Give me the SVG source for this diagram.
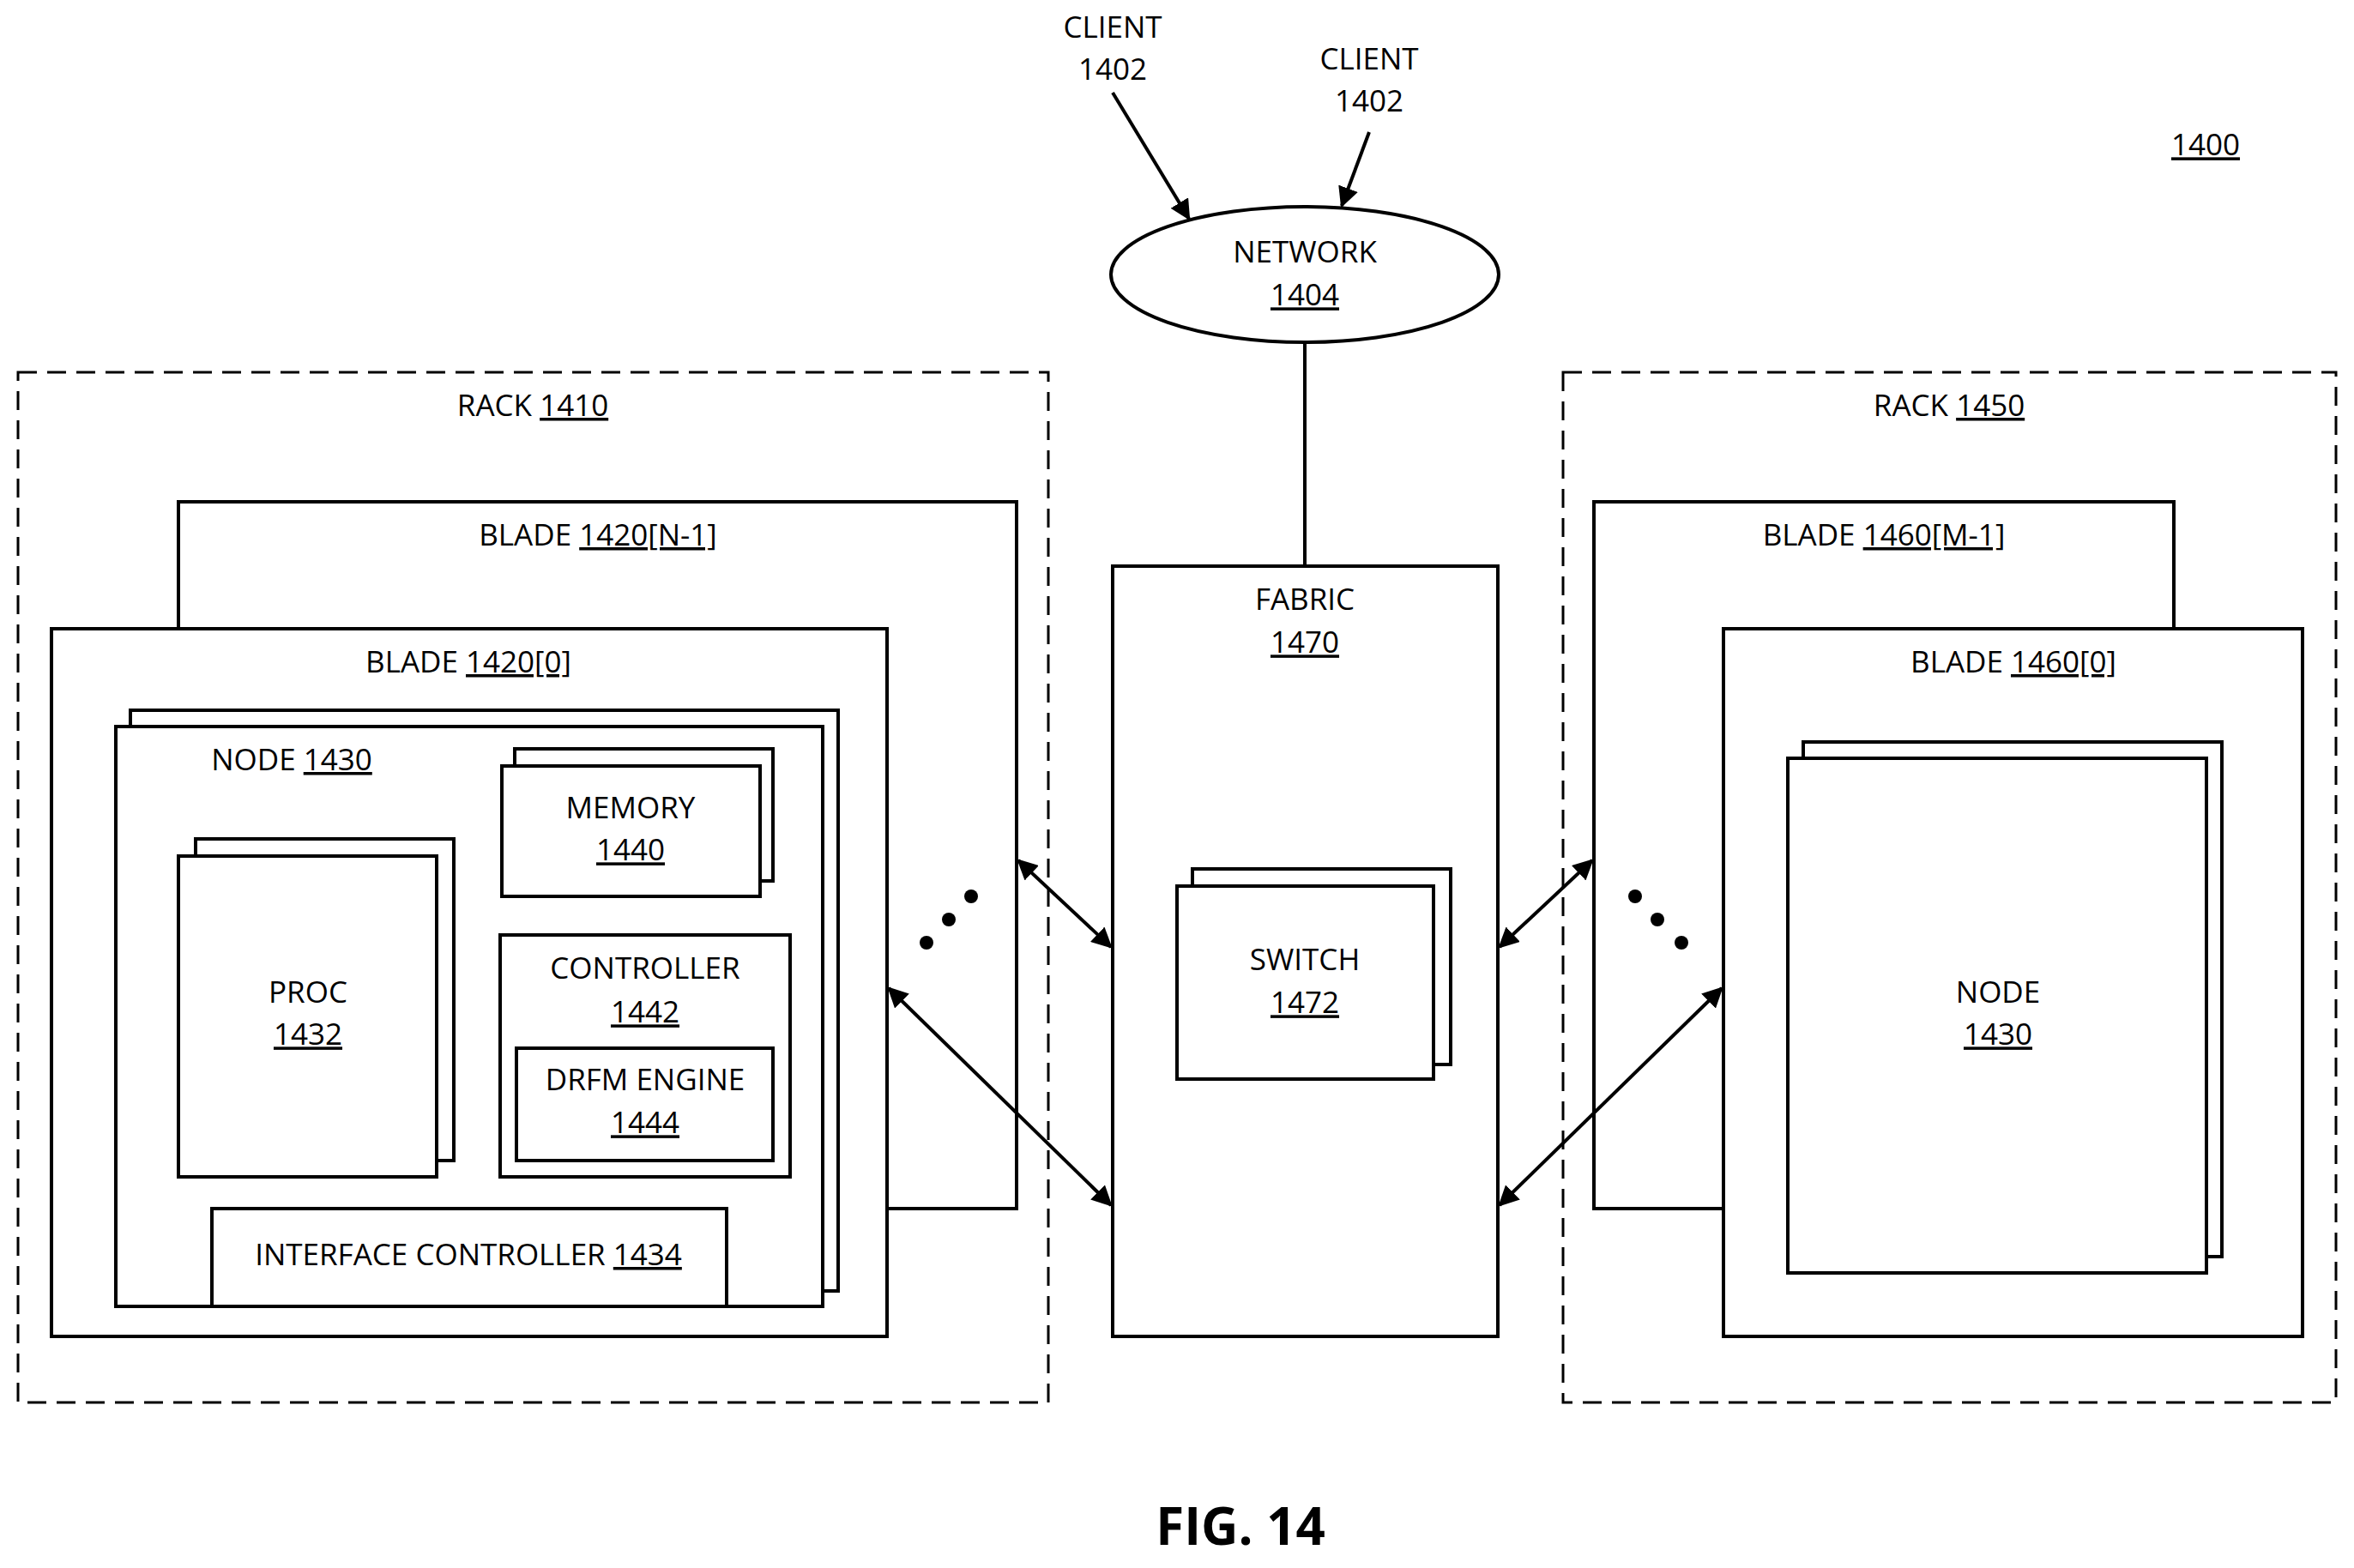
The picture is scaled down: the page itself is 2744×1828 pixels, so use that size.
<svg xmlns="http://www.w3.org/2000/svg" width="2744" height="1828" viewBox="0 0 2744 1828">
<style>
text{font-family:"Open Sans","Liberation Sans",sans-serif;font-size:35px;fill:#000;text-anchor:middle;dominant-baseline:middle}
.u{text-decoration:underline}
.b{fill:#fff;stroke:#000;stroke-width:4}
.d{fill:none;stroke:#000;stroke-width:3;stroke-dasharray:22 12}
.c{stroke:#000;stroke-width:4;fill:none}
</style>
<defs><marker id="a" viewBox="0 0 10 10" refX="9" refY="5" markerWidth="6" markerHeight="6" orient="auto-start-reverse" markerUnits="strokeWidth"><path d="M0,0L10,5L0,10z"/></marker></defs>
<rect width="2744" height="1828" fill="#fff"/>
<g id="client1"><text x="1297" y="35">CLIENT</text><text x="1297" y="84">1402</text></g>
<g id="client2"><text x="1596" y="72">CLIENT</text><text x="1596" y="121">1402</text></g>
<text x="2571" y="172" class="u">1400</text>
<g id="rack1410"><rect class="d" x="21" y="434" width="1201" height="1201"/><text x="621" y="476">RACK <tspan class="u">1410</tspan></text></g>
<g id="rack1450"><rect class="d" x="1822" y="434" width="901" height="1201"/><text x="2272" y="476">RACK <tspan class="u">1450</tspan></text></g>
<g id="blade1420n"><rect class="b" x="208" y="585" width="977" height="824"/><text x="697" y="627">BLADE <tspan class="u">1420[N-1]</tspan></text></g>
<g id="blade1420_0"><rect class="b" x="60" y="733" width="974" height="825"/><text x="546" y="775">BLADE <tspan class="u">1420[0]</tspan></text></g>
<g id="node1430"><rect class="b" x="152" y="828" width="825" height="677"/><rect class="b" x="135" y="847" width="824" height="676"/><text x="340" y="889">NODE <tspan class="u">1430</tspan></text></g>
<g id="memory"><rect class="b" x="600" y="873" width="301" height="154"/><rect class="b" x="585" y="893" width="301" height="152"/><text x="735" y="945">MEMORY</text><text x="735" y="994" class="u">1440</text></g>
<g id="proc"><rect class="b" x="228" y="978" width="301" height="375"/><rect class="b" x="208" y="998" width="301" height="374"/><text x="359" y="1160">PROC</text><text x="359" y="1209" class="u">1432</text></g>
<g id="controller"><rect class="b" x="583" y="1090" width="338" height="282"/><text x="752" y="1132">CONTROLLER</text><text x="752" y="1183" class="u">1442</text></g>
<g id="drfm"><rect class="b" x="602" y="1222" width="299" height="131"/><text x="752" y="1262">DRFM ENGINE</text><text x="752" y="1312" class="u">1444</text></g>
<g id="ifc"><rect class="b" x="247" y="1409" width="600" height="114"/><text x="546" y="1466">INTERFACE CONTROLLER <tspan class="u">1434</tspan></text></g>
<g id="blade1460m"><rect class="b" x="1858" y="585" width="676" height="824"/><text x="2196" y="627">BLADE <tspan class="u">1460[M-1]</tspan></text></g>
<g id="blade1460_0"><rect class="b" x="2009" y="733" width="675" height="825"/><text x="2347" y="775">BLADE <tspan class="u">1460[0]</tspan></text></g>
<g id="node1430r"><rect class="b" x="2102" y="865" width="488" height="600"/><rect class="b" x="2084" y="884" width="488" height="600"/><text x="2329" y="1160">NODE</text><text x="2329" y="1209" class="u">1430</text></g>
<g id="fabric"><rect class="b" x="1297" y="660" width="449" height="898"/><text x="1521" y="702">FABRIC</text><text x="1521" y="752" class="u">1470</text></g>
<g id="switch"><rect class="b" x="1390" y="1013" width="301" height="228"/><rect class="b" x="1372" y="1033" width="299" height="225"/><text x="1521" y="1122">SWITCH</text><text x="1521" y="1172" class="u">1472</text></g>
<g id="network"><ellipse class="b" cx="1521" cy="320" rx="226" ry="79"/><text x="1521" y="297">NETWORK</text><text x="1521" y="347" class="u">1404</text></g>
<g id="dots"><circle cx="1080" cy="1099" r="8"/><circle cx="1106" cy="1072" r="8"/><circle cx="1132" cy="1045" r="8"/><circle cx="1906" cy="1045" r="8"/><circle cx="1932" cy="1072" r="8"/><circle cx="1960" cy="1099" r="8"/></g>
<g id="connectors">
<line class="c" x1="1297" y1="108" x2="1386" y2="255" marker-end="url(#a)"/>
<line class="c" x1="1596" y1="154" x2="1564" y2="240" marker-end="url(#a)"/>
<line class="c" x1="1521" y1="399" x2="1521" y2="660"/>
<line class="c" x1="1187" y1="1003" x2="1295" y2="1104" marker-start="url(#a)" marker-end="url(#a)"/>
<line class="c" x1="1036" y1="1152" x2="1295" y2="1405" marker-start="url(#a)" marker-end="url(#a)"/>
<line class="c" x1="1748" y1="1104" x2="1856" y2="1003" marker-start="url(#a)" marker-end="url(#a)"/>
<line class="c" x1="1748" y1="1405" x2="2007" y2="1152" marker-start="url(#a)" marker-end="url(#a)"/>
</g>
<text x="1446" y="1785" style="font-size:60px;font-weight:bold">FIG. 14</text>
</svg>
